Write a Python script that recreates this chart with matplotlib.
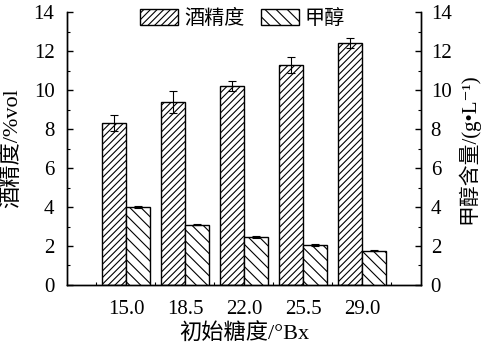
import matplotlib
matplotlib.use("Agg")
import matplotlib.pyplot as plt
import numpy as np
from matplotlib.ticker import MultipleLocator, FixedLocator

plt.rcParams['font.family'] = ['Liberation Serif', 'Noto Sans CJK SC', 'DejaVu Serif', 'DejaVu Sans']
plt.rcParams['hatch.linewidth'] = 0.8

categories = ['15.0', '18.5', '22.0', '25.5', '29.0']
alcohol = [8.3, 9.4, 10.2, 11.3, 12.4]
alcohol_err = [0.4, 0.55, 0.25, 0.4, 0.25]
methanol = [4.0, 3.1, 2.45, 2.05, 1.75]
methanol_err = [0.03, 0.03, 0.04, 0.03, 0.03]
series_names = ['酒精度', '甲醇']

fig = plt.figure(figsize=(4.85, 3.58), dpi=100)
ax = fig.add_axes([0.138, 0.204, 0.730, 0.762])
ax2 = ax.twinx()

x = np.arange(1, len(categories) + 1)
w = 0.4
b1 = ax.bar(x - w / 2, alcohol, w, yerr=alcohol_err, color='white', edgecolor='black',
            linewidth=1.0, hatch='/////', capsize=3,
            error_kw=dict(elinewidth=0.8, capthick=0.8, ecolor='black'), label=series_names[0])
b2 = ax2.bar(x + w / 2, methanol, w, yerr=methanol_err, color='white', edgecolor='black',
             linewidth=1.0, hatch='\\\\\\', capsize=3,
             error_kw=dict(elinewidth=0.8, capthick=0.8, ecolor='black'), label=series_names[1])

for a in (ax, ax2):
    a.set_ylim(0, 14)
    a.set_xlim(0, 6)
    a.yaxis.set_major_locator(MultipleLocator(2))
    a.yaxis.set_minor_locator(MultipleLocator(1))
    a.spines['top'].set_visible(False)
    for s in a.spines.values():
        s.set_linewidth(1.0)

ax.set_xticks(x)
ax.set_xticklabels(categories)
ax.xaxis.set_minor_locator(FixedLocator(np.arange(0.5, 6, 1.0)))
ax.tick_params(axis='x', which='major', length=0, labelsize=15, pad=11)
ax.tick_params(axis='x', which='minor', direction='in', length=2, width=0.8)
ax.tick_params(axis='y', which='major', direction='in', length=4, width=1.0, labelsize=15, pad=9)
ax.tick_params(axis='y', which='minor', direction='in', length=2, width=0.8)
ax2.tick_params(axis='y', which='major', direction='in', length=4, width=1.0, labelsize=15, pad=7)
ax2.tick_params(axis='y', which='minor', direction='in', length=2, width=0.8)

ax.set_xlabel('初始糖度/°Bx', fontsize=16, labelpad=3)
ax.set_ylabel('酒精度/%vol', fontsize=16, labelpad=8)
ax2.set_ylabel('甲醇含量/(g•L⁻¹)', fontsize=15, labelpad=4)

fig.legend(handles=[b1, b2], labels=series_names, loc='upper center',
           bbox_to_anchor=(0.5, 1.025), ncol=2, frameon=False, fontsize=14.5,
           handlelength=1.9, handleheight=0.8, handletextpad=0.3, columnspacing=0.8)

fig.savefig('out.png', dpi=100)
